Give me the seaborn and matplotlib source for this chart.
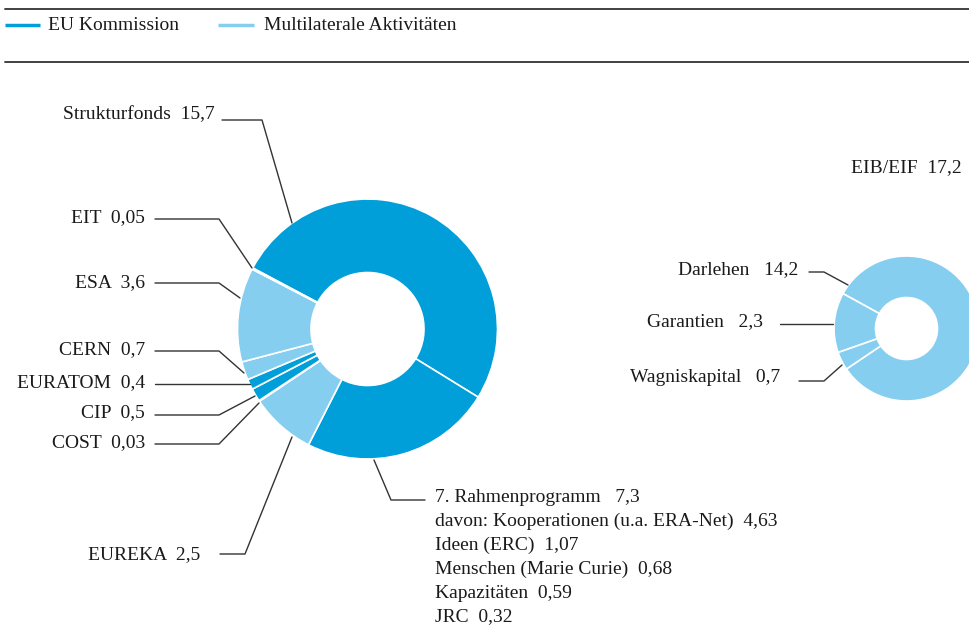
import matplotlib
matplotlib.use("Agg")
import matplotlib.pyplot as plt
import seaborn as sns

# values in Mrd. Euro
left_labels = ["Strukturfonds", "7. Rahmenprogramm", "EUREKA", "COST", "CIP",
               "EURATOM", "CERN", "ESA", "EIT"]
left_values = [15.7, 7.3, 2.5, 0.03, 0.5, 0.4, 0.7, 3.6, 0.05]
left_groups = ["EU", "EU", "Multi", "EU", "EU", "EU", "Multi", "Multi", "EU"]

right_title = "EIB/EIF"
right_total = 17.2
right_labels = ["Darlehen", "Garantien", "Wagniskapital"]
right_values = [14.2, 2.3, 0.7]

rp_labels = ["davon: Kooperationen (u.a. ERA-Net)", "Ideen (ERC)",
             "Menschen (Marie Curie)", "Kapazitäten", "JRC"]
rp_values = [4.63, 1.07, 0.68, 0.59, 0.32]

legend_labels = ["EU Kommission", "Multilaterale Aktivitäten"]

sns.set_theme(style="white")
plt.rcParams["font.family"] = ["Liberation Serif", "DejaVu Serif"]

dark, light = "#009fda", "#86cef0"
pal = {"EU": dark, "Multi": light}
txt = "#1a1a1a"
line_c = "#333333"
FS = 14

W, H = 970, 628


def Y(py):
    return H - py


def de(v):
    return str(v).replace(".", ",")


fig = plt.figure(figsize=(9.7, 6.28), dpi=100)
ax = fig.add_axes([0, 0, 1, 1])

# rules and legend
for py in (9, 62):
    ax.plot([5, W], [Y(py), Y(py)], color=line_c, lw=1.3)
for (x0, x1, tx), lab, col in zip([(5, 40, 48), (218, 254, 264)], legend_labels, [dark, light]):
    ax.plot([x0, x1], [Y(25), Y(25)], color=col, lw=2.5, solid_capstyle="butt")
    ax.text(tx, Y(25), lab, fontsize=FS, color=txt, va="center", ha="left")

# left donut
ax.pie(left_values, colors=[pal[g] for g in left_groups], radius=130,
       center=(367.5, Y(329)), startangle=152, counterclock=False, frame=True,
       wedgeprops=dict(width=73.5, edgecolor="white", linewidth=1.2))

# right donut
ax.pie(right_values, colors=[light] * len(right_values), radius=72.5,
       center=(906.5, Y(328.5)), startangle=-146, counterclock=True, frame=True,
       wedgeprops=dict(width=41.5, edgecolor="white", linewidth=1.2))

# leader lines for left labels: (text right x, text y, path)
left_leaders = {
    "Strukturfonds": (215, 115, [(222, 120), (262, 120), (292, 223)]),
    "EIT": (145, 218, [(155, 219), (219, 219), (252, 268)]),
    "ESA": (145, 283, [(155, 283), (219, 283), (240, 298)]),
    "CERN": (145, 350, [(155, 351), (219, 351), (244, 373)]),
    "EURATOM": (145, 383, [(155, 384), (250, 384)]),
    "CIP": (145, 413, [(155, 415), (219, 415), (255, 396)]),
    "COST": (145, 443, [(155, 444), (219, 444), (259, 403)]),
    "EUREKA": (200, 555, [(220, 554), (245, 554), (292, 437)]),
}
for lab, val in zip(left_labels, left_values):
    if lab not in left_leaders:
        continue
    tx, ty, path = left_leaders[lab]
    ax.text(tx, Y(ty), f"{lab}  {de(val)}", fontsize=FS, color=txt,
            ha="right", va="center")
    ax.plot([p[0] for p in path], [Y(p[1]) for p in path], color=line_c, lw=1)

# 7. Rahmenprogramm block
rp_path = [(374, 460), (391, 500), (425, 500)]
ax.plot([p[0] for p in rp_path], [Y(p[1]) for p in rp_path], color=line_c, lw=1)
ax.text(435, Y(497), f"{left_labels[1]}   {de(left_values[1])}", fontsize=FS,
        color=txt, ha="left", va="center")
for i, (lab, val) in enumerate(zip(rp_labels, rp_values)):
    ax.text(435, Y(521 + 24 * i), f"{lab}  {de(val)}", fontsize=FS, color=txt,
            ha="left", va="center")

# right labels
ax.text(962, Y(168), f"{right_title}  {de(right_total)}", fontsize=FS, color=txt,
        ha="right", va="center")
right_leaders = {
    "Darlehen": (798, 270, [(809, 272), (824, 272), (848, 285)]),
    "Garantien": (763, 322, [(780, 324), (833, 324)]),
    "Wagniskapital": (780, 377, [(799, 381), (824, 381), (842, 365)]),
}
for lab, val in zip(right_labels, right_values):
    tx, ty, path = right_leaders[lab]
    ax.text(tx, Y(ty), f"{lab}   {de(val)}", fontsize=FS, color=txt,
            ha="right", va="center")
    ax.plot([p[0] for p in path], [Y(p[1]) for p in path], color=line_c, lw=1)

ax.set_xlim(0, W)
ax.set_ylim(0, H)
ax.set_aspect("equal")
ax.axis("off")

fig.savefig("out.png", dpi=100, facecolor="white")
